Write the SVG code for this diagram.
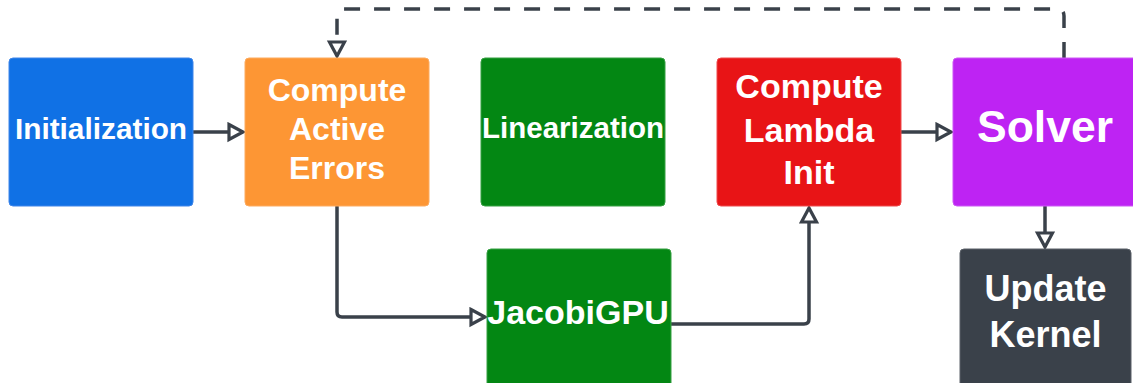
<svg xmlns="http://www.w3.org/2000/svg" width="1133" height="383" viewBox="0 0 1133 383">
<defs>
<style>
.box{stroke-width:1;}
.t{font-family:"Liberation Sans",Arial,sans-serif;font-weight:bold;fill:#ffffff;text-anchor:middle;}
.c{fill:none;stroke:#3a414a;stroke-width:3.5;stroke-linejoin:round;}
.d{stroke-dasharray:16 14;}
</style>
<marker id="ah" markerUnits="userSpaceOnUse" markerWidth="24" markerHeight="24" refX="17" refY="10" orient="auto">
<path d="M3,2.5 L17,10 L3,17.5 Z" fill="#ffffff" stroke="#3a414a" stroke-width="3.2" stroke-linejoin="miter"/>
</marker>
</defs>
<rect width="1133" height="383" fill="#ffffff"/>
<g id="connectors">
<path class="c" d="M193,132 L243,132" marker-end="url(#ah)"/>
<path class="c" d="M901,132 L951,132" marker-end="url(#ah)"/>
<path class="c" d="M337,206 L337,312 Q337,317 342,317 L485,317" marker-end="url(#ah)"/>
<path class="c" d="M671,324 L804,324 Q809,324 809,319 L809,208" marker-end="url(#ah)"/>
<path class="c" d="M1045,206 L1045,247" marker-end="url(#ah)"/>
<path class="c d" d="M1064,58 L1064,16 Q1064,9 1057,9 L344,9 Q337,9 337,16 L337,56" marker-end="url(#ah)"/>
</g>
<g id="initialization">
<rect class="box" x="9" y="58" width="184" height="148" rx="4" fill="#1071e5" stroke="#3f86ea"/>
<text class="t" x="101" y="139" font-size="29.8">Initialization</text>
</g>
<g id="compute-active-errors">
<rect class="box" x="245" y="58" width="184" height="148" rx="4" fill="#fd9634" stroke="#fdab5f"/>
<text class="t" x="337" y="101" font-size="32">Compute</text>
<text class="t" x="337" y="140" font-size="32">Active</text>
<text class="t" x="337" y="179" font-size="32">Errors</text>
</g>
<g id="linearization">
<rect class="box" x="481" y="58" width="184" height="148" rx="4" fill="#038713" stroke="#37a043"/>
<text class="t" x="573" y="138" font-size="29.5">Linearization</text>
</g>
<g id="compute-lambda-init">
<rect class="box" x="717" y="58" width="184" height="148" rx="4" fill="#e81416" stroke="#ee4a4c"/>
<text class="t" x="809" y="98" font-size="34">Compute</text>
<text class="t" x="809" y="142" font-size="34">Lambda</text>
<text class="t" x="809" y="184" font-size="34">Init</text>
</g>
<g id="solver">
<rect class="box" x="953" y="58" width="184" height="148" rx="4" fill="#be23f3" stroke="#cc58f5"/>
<text class="t" x="1045" y="142" font-size="44.5">Solver</text>
</g>
<g id="jacobigpu">
<rect class="box" x="487" y="249" width="184" height="148" rx="4" fill="#038713" stroke="#37a043"/>
<text class="t" x="578" y="324" font-size="34">JacobiGPU</text>
</g>
<g id="update-kernel">
<rect class="box" x="960" y="249" width="171" height="148" rx="4" fill="#3a414a" stroke="#5a6068"/>
<text class="t" x="1045.5" y="301" font-size="36">Update</text>
<text class="t" x="1045.5" y="347" font-size="36">Kernel</text>
</g>
</svg>
